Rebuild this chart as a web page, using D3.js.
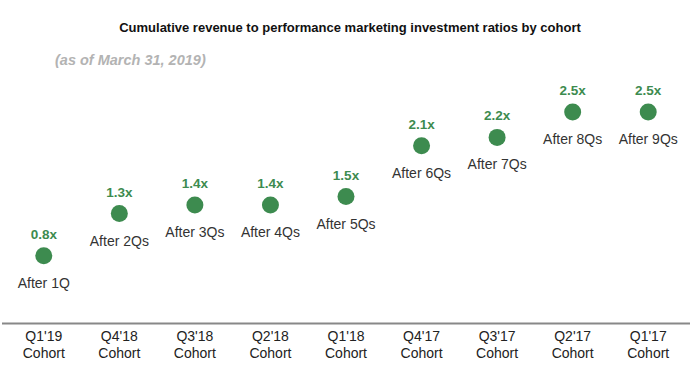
<!DOCTYPE html>
<html>
<head>
<meta charset="utf-8">
<script src="https://cdn.jsdelivr.net/npm/d3@7"></script>
<style>
  body { margin: 0; background: #fff; }
  text { font-family: "Liberation Sans", Arial, sans-serif; }
</style>
</head>
<body>
<svg></svg>
<script>
var width = 700
var height = 371

// data
var cohorts = ["Q1'19", "Q4'18", "Q3'18", "Q2'18", "Q1'18", "Q4'17", "Q3'17", "Q2'17", "Q1'17"]
var ratios = [0.8, 1.3, 1.4, 1.4, 1.5, 2.1, 2.2, 2.5, 2.5]
var afterLabels = ["After 1Q", "After 2Qs", "After 3Qs", "After 4Qs", "After 5Qs", "After 6Qs", "After 7Qs", "After 8Qs", "After 9Qs"]

var green = "#3d8b4f"

var svg = d3.select('svg')
  .attr("width", width)
  .attr("height", height)

var x = d3.scaleBand()
  .domain(cohorts)
  .range([6, 686])

var y = d3.scaleLinear()
  .domain([0, 2.5])
  .range([323.5, 112])

// title
svg.append("text")
  .attr("x", 350)
  .attr("y", 32)
  .attr("text-anchor", "middle")
  .attr("font-size", 13)
  .attr("font-weight", "bold")
  .attr("fill", "#111")
  .text("Cumulative revenue to performance marketing investment ratios by cohort")

svg.append("text")
  .attr("x", 55)
  .attr("y", 65)
  .attr("font-size", 14.5)
  .attr("font-weight", "bold")
  .attr("font-style", "italic")
  .attr("fill", "#b3b3b3")
  .text("(as of March 31, 2019)")

// baseline axis
var axis = d3.axisBottom(x).tickSize(0).tickFormat("")
var gAxis = svg.append("g")
  .attr("transform", "translate(0," + y(0) + ")")
  .call(axis)
gAxis.select(".domain")
  .attr("stroke", "#888")
  .attr("stroke-width", 2)
  .attr("d", "M2,0H690")

// category labels
var cat = svg.append("g").selectAll("text")
  .data(cohorts)
  .join("text")
  .attr("text-anchor", "middle")
  .attr("font-size", 14)
  .attr("fill", "#222")
cat.append("tspan")
  .attr("x", d => x(d) + x.bandwidth() / 2)
  .attr("y", 341)
  .text(d => d)
cat.append("tspan")
  .attr("x", d => x(d) + x.bandwidth() / 2)
  .attr("y", 358)
  .text("Cohort")

var pts = svg.append("g").selectAll("g")
  .data(cohorts)
  .join("g")
  .attr("transform", (d, i) => "translate(" + (x(d) + x.bandwidth() / 2) + "," + y(ratios[i]) + ")")

pts.append("circle")
  .attr("r", 8.5)
  .attr("fill", green)

pts.append("text")
  .attr("y", -17)
  .attr("text-anchor", "middle")
  .attr("font-size", 13.5)
  .attr("font-weight", "bold")
  .attr("fill", green)
  .text((d, i) => ratios[i].toFixed(1) + "x")

pts.append("text")
  .attr("y", 32)
  .attr("text-anchor", "middle")
  .attr("font-size", 14)
  .attr("fill", "#333")
  .text((d, i) => afterLabels[i])
</script>
</body>
</html>
